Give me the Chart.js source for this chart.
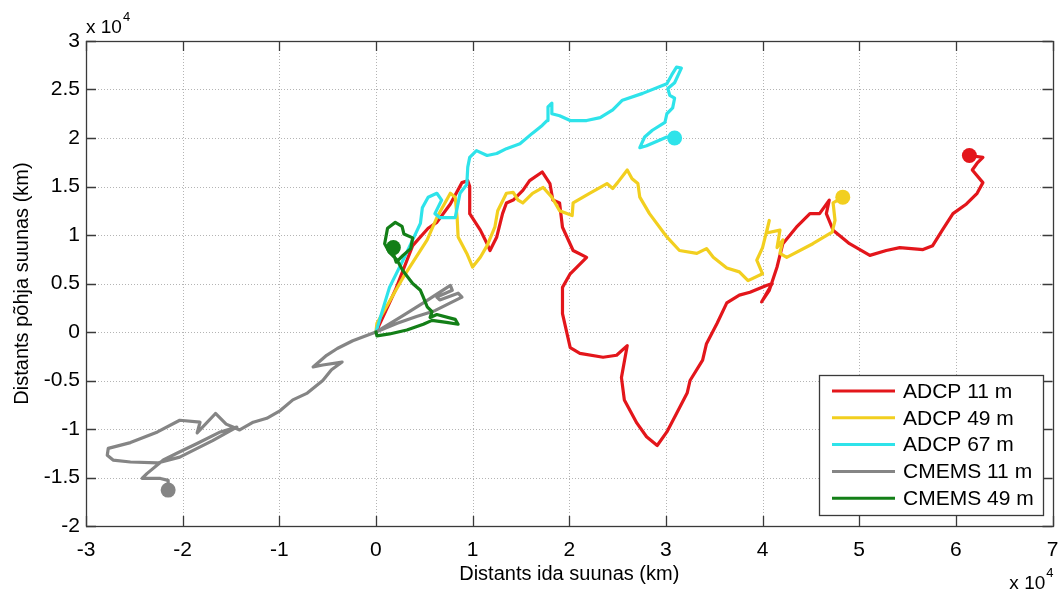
<!DOCTYPE html>
<html>
<head>
<meta charset="utf-8">
<title>Trajektoorid</title>
<script src="https://cdn.jsdelivr.net/npm/chart.js@4.4.1/dist/chart.umd.min.js"></script>
<style>
  html, body { margin: 0; padding: 0; background: #fff; }
</style>
</head>
<body>
<canvas id="trackChart" width="1060" height="595"></canvas>
<script>
// Progressive vector trajectories, distances in km from the start point
const seriesNames = ['ADCP 11 m', 'ADCP 49 m', 'ADCP 67 m', 'CMEMS 11 m', 'CMEMS 49 m'];
const seriesColors = ['#e3161b', '#f2cf1f', '#2ee3ea', '#858585', '#137f17'];

const adcp11X = [0, 2000, 3800, 5400, 6300, 7700, 8900, 9500, 9700, 9700, 10800, 11500, 11800, 12500, 13100, 13500, 14200, 15200, 15900, 17200, 18000, 18300, 19000, 19300, 20400, 21800, 20100, 19300, 19300, 20100, 21100, 23500, 24900, 26000, 25400, 25700, 27000, 28000, 29100, 30100, 31100, 32200, 32500, 33800, 34200, 35300, 36300, 37600, 38700, 40400, 41000, 39900, 40700, 41500, 42100, 43500, 44900, 45900, 46900, 46600, 47300, 49000, 51100, 52800, 54200, 56600, 57600, 58600, 59700, 61100, 62200, 62800, 61700, 62200, 62800, 61400];
const adcp11Y = [0, 4300, 8900, 10700, 11300, 13200, 15400, 15600, 15000, 12200, 10500, 9100, 8400, 9800, 12200, 13300, 13600, 14600, 15600, 16500, 15300, 13600, 13300, 10800, 8400, 7700, 6000, 4600, 1900, -1600, -2200, -2600, -2400, -1400, -4700, -7000, -9400, -10800, -11700, -10300, -8400, -6300, -5000, -2900, -1200, 900, 3000, 3800, 4100, 4800, 5000, 3100, 4300, 6700, 9100, 10800, 12200, 12200, 13600, 12200, 10500, 9100, 7900, 8400, 8700, 8500, 8900, 10500, 12200, 13200, 14300, 15400, 16700, 17400, 18000, 18200];

const adcp49X = [0, 100, 2800, 5300, 6300, 7700, 8200, 8400, 8500, 9400, 10000, 10800, 11500, 12300, 12600, 13500, 14200, 14700, 15200, 16200, 17300, 18200, 19000, 20300, 20400, 22100, 23900, 24500, 25000, 26000, 26500, 27100, 27300, 28300, 30100, 31400, 33200, 34200, 34900, 36300, 37600, 38500, 40000, 39400, 40000, 40700, 40400, 41800, 41500, 42100, 41800, 42500, 45200, 47200, 47500, 47300, 48300];
const adcp49Y = [0, 900, 5600, 9500, 11800, 14300, 13900, 11800, 9800, 8100, 6700, 7700, 8900, 10800, 12500, 14300, 14400, 13600, 13300, 14300, 14900, 13900, 12500, 12000, 13300, 14300, 15300, 14800, 15400, 16700, 15800, 15300, 13900, 12200, 9800, 8400, 8100, 8600, 7700, 6600, 6200, 5300, 6000, 7400, 8700, 11500, 10200, 10500, 8700, 9500, 8100, 7700, 9100, 10300, 11500, 13300, 13900];

const adcp67X = [0, 1400, 2800, 3800, 4600, 4800, 5400, 6300, 6800, 6100, 6600, 8200, 8400, 8700, 9400, 9500, 9700, 10400, 11500, 12500, 13500, 14900, 16200, 17200, 17700, 17800, 18200, 18200, 19000, 20100, 21800, 23200, 24500, 25500, 27600, 30100, 30600, 31100, 31600, 30900, 30200, 30400, 30900, 30700, 30100, 29900, 28600, 27800, 27300, 28000, 30100, 30900];
const adcp67Y = [0, 4600, 7400, 9500, 11200, 12800, 13900, 14300, 13600, 12200, 11800, 11800, 12800, 14300, 15200, 17000, 18000, 18700, 18200, 18400, 18900, 19400, 20500, 21300, 21800, 23200, 23600, 22500, 22300, 21800, 21800, 22100, 22900, 23900, 24600, 25600, 26500, 27300, 27200, 25700, 25100, 24400, 24100, 23100, 22500, 21600, 20800, 20100, 19000, 19200, 20100, 20000];

const cmems11X = [0, 2500, 4900, 6900, 7700, 7900, 6300, 6600, 8500, 8900, 7700, 6100, 4200, 2200, 0, -2400, -4000, -5100, -6500, -5500, -3500, -4600, -5500, -7100, -8600, -9900, -11300, -12700, -14100, -14800, -15500, -16600, -18500, -18200, -20300, -22600, -25400, -27700, -27800, -27200, -25400, -22600, -20300, -18500, -16900, -14400, -16100, -18500, -20600, -22000, -23700, -24200, -22300, -21500, -21500];
const cmems11Y = [0, 1500, 3000, 4300, 4800, 4300, 3600, 3300, 4000, 3600, 3000, 2200, 1600, 900, 0, -900, -1700, -2400, -3600, -3400, -3100, -3900, -5000, -6300, -7000, -8100, -8900, -9300, -10100, -9800, -9500, -8400, -10400, -9300, -9100, -10300, -11400, -12000, -12700, -13200, -13400, -13500, -12900, -12000, -11200, -9800, -10300, -11500, -12500, -13200, -14600, -15100, -15100, -15300, -16300];

const cmems49X = [0, 100, 1400, 3200, 4900, 5800, 7300, 8500, 8200, 6300, 5600, 5800, 5300, 4900, 4600, 3800, 2800, 2200, 1400, 900, 1200, 2000, 2700, 2900, 3800, 3600, 2800, 2100, 1800, 1800];
const cmems49Y = [0, -400, -200, 200, 800, 1200, 1000, 800, 1300, 1800, 1500, 2100, 2600, 3600, 4300, 5000, 6300, 7400, 8200, 9100, 10700, 11300, 10900, 10100, 9700, 8600, 7900, 7200, 8100, 8700];

// tick positions (labels are shown in units of 10^4 km)
const xTickValues = [-30000, -20000, -10000, 0, 10000, 20000, 30000, 40000, 50000, 60000, 70000];
const yTickValues = [-20000, -15000, -10000, -5000, 0, 5000, 10000, 15000, 20000, 25000, 30000];

const FONT = "'Liberation Sans', Arial, Helvetica, sans-serif";

function toPoints(xs, ys) {
    return xs.map((x, i) => ({ x: x, y: ys[i] }));
}

const tracks = [
    toPoints(adcp11X, adcp11Y),
    toPoints(adcp49X, adcp49Y),
    toPoints(adcp67X, adcp67Y),
    toPoints(cmems11X, cmems11Y),
    toPoints(cmems49X, cmems49Y)
];

// later series sit on top, like the original plotting order
const datasets = tracks.map((pts, i) => ({
    label: seriesNames[i],
    data: pts,
    showLine: true,
    borderColor: seriesColors[i],
    backgroundColor: seriesColors[i],
    borderWidth: 3.2,
    borderJoinStyle: 'round',
    borderCapStyle: 'round',
    tension: 0,
    order: tracks.length - i,
    // big dot at the end of each track
    pointRadius: ctx => (ctx.dataIndex === pts.length - 1 ? 7.5 : 0),
    pointHoverRadius: ctx => (ctx.dataIndex === pts.length - 1 ? 7.5 : 0),
    pointBorderWidth: 0,
    pointBackgroundColor: seriesColors[i]
}));

function drawExponent(ctx, x, baseline, alignRight) {
    ctx.save();
    ctx.fillStyle = '#000';
    ctx.textBaseline = 'alphabetic';
    ctx.textAlign = 'left';
    ctx.font = '19px ' + FONT;
    const mainW = ctx.measureText('x 10').width;
    ctx.font = '13px ' + FONT;
    const supW = ctx.measureText('4').width;
    const left = alignRight ? x - mainW - supW - 1 : x;
    ctx.font = '19px ' + FONT;
    ctx.fillText('x 10', left, baseline);
    ctx.font = '13px ' + FONT;
    ctx.fillText('4', left + mainW + 1, baseline - 12);
    ctx.restore();
}

// MATLAB-like axes: dotted grid, closed box, inward ticks, boxed legend
const axisFrame = {
    id: 'axisFrame',
    beforeDatasetsDraw(chart) {
        const { ctx, chartArea: a, scales: { x, y } } = chart;
        ctx.save();
        ctx.strokeStyle = '#b4b4b4';
        ctx.lineWidth = 1;
        ctx.setLineDash([1, 2]);
        ctx.beginPath();
        xTickValues.slice(1, -1).forEach(v => {
            const px = Math.round(x.getPixelForValue(v)) + 0.5;
            ctx.moveTo(px, a.top);
            ctx.lineTo(px, a.bottom);
        });
        yTickValues.slice(1, -1).forEach(v => {
            const py = Math.round(y.getPixelForValue(v)) + 0.5;
            ctx.moveTo(a.left, py);
            ctx.lineTo(a.right, py);
        });
        ctx.stroke();
        ctx.restore();
    },
    afterDatasetsDraw(chart) {
        const { ctx, chartArea: a, scales: { x, y } } = chart;
        const tick = 10;
        ctx.save();
        ctx.strokeStyle = '#3a3a3a';
        ctx.lineWidth = 1.3;
        ctx.strokeRect(Math.round(a.left) + 0.5, Math.round(a.top) + 0.5,
            Math.round(a.right - a.left), Math.round(a.bottom - a.top));
        ctx.beginPath();
        xTickValues.forEach(v => {
            const px = Math.round(x.getPixelForValue(v)) + 0.5;
            ctx.moveTo(px, a.bottom);
            ctx.lineTo(px, a.bottom - tick);
            ctx.moveTo(px, a.top);
            ctx.lineTo(px, a.top + tick);
        });
        yTickValues.forEach(v => {
            const py = Math.round(y.getPixelForValue(v)) + 0.5;
            ctx.moveTo(a.left, py);
            ctx.lineTo(a.left + tick, py);
            ctx.moveTo(a.right, py);
            ctx.lineTo(a.right - tick, py);
        });
        ctx.stroke();
        ctx.restore();
    },
    afterDraw(chart) {
        const { ctx, chartArea: a } = chart;

        // legend in the lower right corner
        const box = { left: 819, top: 375, width: 224, height: 140 };
        ctx.save();
        ctx.fillStyle = '#fff';
        ctx.fillRect(box.left, box.top, box.width, box.height);
        ctx.strokeStyle = '#3a3a3a';
        ctx.lineWidth = 1.3;
        ctx.strokeRect(box.left + 0.5, box.top + 0.5, box.width, box.height);
        ctx.font = '21px ' + FONT;
        ctx.textBaseline = 'middle';
        ctx.textAlign = 'left';
        chart.data.datasets.forEach((ds, i) => {
            const cy = box.top + 16 + i * 26.8;
            ctx.strokeStyle = ds.borderColor;
            ctx.lineWidth = 3;
            ctx.beginPath();
            ctx.moveTo(box.left + 13, cy);
            ctx.lineTo(box.left + 76, cy);
            ctx.stroke();
            ctx.fillStyle = '#000';
            ctx.fillText(ds.label, box.left + 84, cy + 1);
        });
        ctx.restore();

        // exponent markers for both axes
        drawExponent(ctx, a.left, 33, false);
        drawExponent(ctx, a.right + 1, 589, true);
    }
};

const ctx = document.getElementById('trackChart').getContext('2d');

const trackChart = new Chart(ctx, {
    type: 'scatter',
    data: { datasets: datasets },
    options: {
        responsive: false,
        animation: false,
        events: [],
        layout: { padding: { top: 41, right: 7, left: 0, bottom: 0 } },
        plugins: {
            legend: { display: false },
            tooltip: { enabled: false }
        },
        scales: {
            x: {
                type: 'linear',
                min: -30000,
                max: 70000,
                afterBuildTicks: s => { s.ticks = xTickValues.map(v => ({ value: v })); },
                afterFit: s => {
                    s.height = 69;
                    // edge labels may overhang the plot box
                    s.paddingLeft = 0;
                    s.paddingRight = 0;
                },
                grid: { display: false, drawTicks: false },
                border: { display: false },
                ticks: {
                    color: '#000',
                    font: { family: FONT, size: 21 },
                    padding: 12,
                    maxRotation: 0,
                    autoSkip: false,
                    callback: v => String(v / 10000)
                },
                title: {
                    display: true,
                    text: 'Distants ida suunas (km)',
                    color: '#000',
                    font: { family: FONT, size: 20 },
                    padding: { top: 0, bottom: 9 }
                }
            },
            y: {
                type: 'linear',
                min: -20000,
                max: 30000,
                afterBuildTicks: s => { s.ticks = yTickValues.map(v => ({ value: v })); },
                afterFit: s => { s.width = 86; },
                grid: { display: false, drawTicks: false },
                border: { display: false },
                ticks: {
                    color: '#000',
                    font: { family: FONT, size: 21 },
                    padding: 6,
                    autoSkip: false,
                    callback: v => String(v / 10000)
                },
                title: {
                    display: true,
                    text: 'Distants põhja suunas (km)',
                    color: '#000',
                    font: { family: FONT, size: 20 },
                    padding: { top: 10, bottom: 0 }
                }
            }
        }
    },
    plugins: [axisFrame]
});
</script>
</body>
</html>
